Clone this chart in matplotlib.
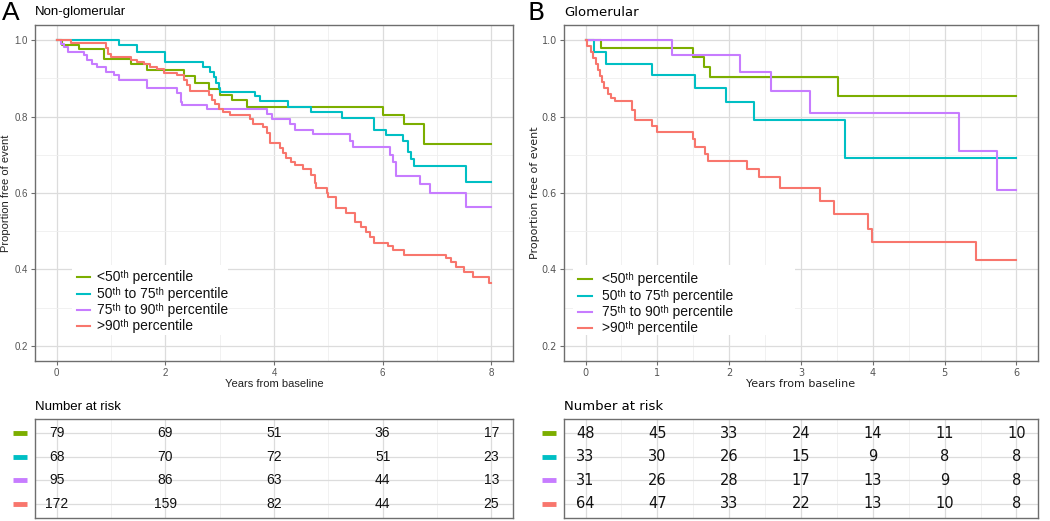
#!/usr/bin/env python3
# Kaplan-Meier style step curves with number-at-risk tables, two panels.
import matplotlib
matplotlib.use("Agg")
import matplotlib.pyplot as plt
import matplotlib.transforms as mtransforms
from matplotlib.patches import Rectangle
import numpy as np

COLORS = ["#7CAE00", "#00BFC4", "#C77CFF", "#F8766D"]
LABELS = [
    "<50\u1d57\u02b0 percentile",
    "50\u1d57\u02b0 to 75\u1d57\u02b0 percentile",
    "75\u1d57\u02b0 to 90\u1d57\u02b0 percentile",
    ">90\u1d57\u02b0 percentile",
]

# ---- panel A: non-glomerular ----
a_green_t = [0, 0.1, 0.41, 0.87, 1.36, 1.66, 2.34, 2.55, 2.8, 3.01, 3.22, 3.5, 6.0, 6.4, 6.77, 8.0]
a_green_s = [1.0, 0.988, 0.976, 0.952, 0.939, 0.923, 0.906, 0.887, 0.872, 0.856, 0.843, 0.826, 0.804, 0.78, 0.728, 0.728]

a_cyan_t = [0, 1.14, 1.48, 2.0, 2.7, 2.83, 2.89, 2.94, 2.98, 3.01, 3.65, 3.74, 4.26, 4.69, 5.26, 5.85,
            6.06, 6.37, 6.46, 6.52, 6.58, 7.53, 8.0]
a_cyan_s = [1.0, 0.987, 0.97, 0.943, 0.93, 0.917, 0.904, 0.887, 0.874, 0.865, 0.854, 0.841, 0.826, 0.811,
            0.797, 0.766, 0.753, 0.736, 0.708, 0.688, 0.671, 0.63, 0.63]

a_purple_t = [0, 0.07, 0.13, 0.2, 0.5, 0.56, 0.65, 0.75, 0.9, 1.05, 1.14, 1.66, 2.21, 2.28, 2.31, 2.77,
              3.87, 3.96, 4.29, 4.39, 4.72, 5.39, 5.45, 6.13, 6.19, 6.25, 6.68, 6.87, 7.53, 8.0]
a_purple_s = [1.0, 0.99, 0.983, 0.97, 0.961, 0.948, 0.939, 0.93, 0.917, 0.908, 0.895, 0.876, 0.861, 0.839,
              0.83, 0.82, 0.806, 0.795, 0.78, 0.766, 0.754, 0.737, 0.721, 0.70, 0.682, 0.644, 0.623, 0.601,
              0.564, 0.564]

a_red_t = [0, 0.26, 0.9, 0.95, 0.99, 1.36, 1.48, 1.6, 1.72, 1.85, 1.97, 2.21, 2.34, 2.4, 2.46, 2.8, 2.86,
           2.92, 2.98, 3.07, 3.19, 3.56, 3.62, 3.8, 3.87, 3.93, 4.11, 4.17, 4.23, 4.32, 4.39, 4.54, 4.69,
           4.75, 4.78, 4.97, 5.0, 5.15, 5.33, 5.49, 5.61, 5.7, 5.76, 5.84, 6.1, 6.19, 6.4, 7.17, 7.26,
           7.35, 7.5, 7.66, 7.96, 8.0]
a_red_s = [1.0, 0.994, 0.98, 0.965, 0.956, 0.948, 0.943, 0.937, 0.93, 0.924, 0.915, 0.908, 0.897, 0.882,
           0.867, 0.856, 0.843, 0.833, 0.821, 0.813, 0.804, 0.795, 0.782, 0.773, 0.756, 0.73, 0.717, 0.704,
           0.691, 0.682, 0.673, 0.663, 0.647, 0.625, 0.612, 0.6, 0.59, 0.56, 0.547, 0.525, 0.512, 0.499,
           0.486, 0.468, 0.46, 0.451, 0.438, 0.429, 0.418, 0.407, 0.392, 0.381, 0.365, 0.365]

a_risk_t = [0, 2, 4, 6, 8]
a_risk_green = [79, 69, 51, 36, 17]
a_risk_cyan = [68, 70, 72, 51, 23]
a_risk_purple = [95, 86, 63, 44, 13]
a_risk_red = [172, 159, 82, 44, 25]

# ---- panel B: glomerular ----
b_green_t = [0, 0.22, 1.49, 1.65, 1.73, 3.52, 6.0]
b_green_s = [1.0, 0.979, 0.956, 0.93, 0.904, 0.855, 0.855]

b_cyan_t = [0, 0.12, 0.29, 0.92, 1.53, 1.96, 2.34, 3.61, 6.0]
b_cyan_s = [1.0, 0.97, 0.939, 0.909, 0.875, 0.839, 0.791, 0.692, 0.692]

b_purple_t = [0, 1.21, 2.15, 2.58, 3.12, 5.2, 5.73, 6.0]
b_purple_s = [1.0, 0.962, 0.918, 0.868, 0.81, 0.709, 0.609, 0.609]

b_red_t = [0, 0.02, 0.08, 0.11, 0.14, 0.17, 0.2, 0.23, 0.26, 0.31, 0.35, 0.41, 0.65, 0.69, 0.92, 1.0,
           1.5, 1.52, 1.67, 1.71, 2.25, 2.42, 2.71, 3.26, 3.46, 3.93, 3.99, 5.44, 6.0]
b_red_s = [1.0, 0.984, 0.969, 0.953, 0.938, 0.922, 0.906, 0.891, 0.875, 0.86, 0.85, 0.842, 0.817, 0.792,
           0.776, 0.76, 0.741, 0.72, 0.702, 0.683, 0.663, 0.642, 0.612, 0.579, 0.544, 0.507, 0.471,
           0.424, 0.424]

b_risk_t = [0, 1, 2, 3, 4, 5, 6]
b_risk_green = [48, 45, 33, 24, 14, 11, 10]
b_risk_cyan = [33, 30, 26, 15, 9, 8, 8]
b_risk_purple = [31, 26, 28, 17, 13, 9, 8]
b_risk_red = [64, 47, 33, 22, 13, 10, 8]

W, H = 1050, 521
GRID_MAJ = "#DCDCDC"
GRID_MIN = "#EFEFEF"
BORDER = "#6E6E6E"
LEG_FONT = ["Liberation Sans", "DejaVu Sans"]


def px_rect(box):
    # pixel box (x0, y0, x1, y1), top-left origin -> figure fraction rect
    x0, y0, x1, y1 = box
    return [x0 / W, 1 - y1 / H, (x1 - x0) / W, (y1 - y0) / H]


def style_frame(ax):
    for sp in ax.spines.values():
        sp.set_color(BORDER)
        sp.set_linewidth(1.0)


def draw_legend(ax, box, leg_box, line_x, text_x, rows_y, size):
    # hand placed legend, all positions given in figure pixels
    x0, y0, x1, y1 = box
    fx = lambda x: (x - x0) / (x1 - x0)
    fy = lambda y: (y1 - y) / (y1 - y0)
    lx0, ly0, lx1, ly1 = leg_box
    ax.add_patch(Rectangle((fx(lx0), fy(ly1)), fx(lx1) - fx(lx0), fy(ly0) - fy(ly1),
                           transform=ax.transAxes, facecolor="white", edgecolor="none", zorder=3))
    for lab, c, y in zip(LABELS, COLORS, rows_y):
        ax.plot([fx(line_x[0]), fx(line_x[1])], [fy(y), fy(y)], color=c, lw=1.5,
                transform=ax.transAxes, zorder=4)
        ax.text(fx(text_x), fy(y), lab, transform=ax.transAxes, ha="left", va="center",
                fontsize=size, family=LEG_FONT, color="#111111", zorder=4)


def draw_curves(ax, curves, xmax, xmajor, xminor, font):
    pad = xmax * 0.05
    ax.set_xlim(-pad, xmax + pad)
    ax.set_ylim(0.16, 1.04)
    ax.set_xticks(xmajor)
    ax.set_xticks(xminor, minor=True)
    ax.set_yticks([0.2, 0.4, 0.6, 0.8, 1.0])
    ax.set_yticks([0.3, 0.5, 0.7, 0.9], minor=True)
    ax.set_yticklabels(["0.2", "0.4", "0.6", "0.8", "1.0"])
    ax.grid(which="major", color=GRID_MAJ, lw=0.9)
    ax.grid(which="minor", color=GRID_MIN, lw=0.6)
    ax.set_axisbelow(True)
    ax.tick_params(which="major", length=3, color=BORDER, labelsize=7, labelcolor="#555555", pad=2)
    ax.tick_params(which="minor", length=0)
    for lab in ax.get_xticklabels() + ax.get_yticklabels():
        lab.set_family(font)
    style_frame(ax)

    for (t, s), c in zip(curves, COLORS):
        ax.step(t, s, where="post", color=c, lw=1.5, zorder=2)

    ax.text(0.5, -0.068, "Years from baseline", transform=ax.transAxes, ha="center",
            va="center", fontsize=8, family=font, color="#222222")
    ax.text(-0.061, 0.5, "Proportion free of event", transform=ax.transAxes, ha="center",
            va="center", rotation=90, fontsize=8, family=font, color="#222222")


def draw_risk(ax, xlim, xmajor, xminor, times, rows, font, size):
    ax.set_xlim(*xlim)
    ax.set_ylim(0.4, 4.6)
    ax.set_xticks(xmajor)
    ax.set_xticks(xminor, minor=True)
    ax.set_yticks([1, 2, 3, 4])
    ax.grid(which="major", color=GRID_MAJ, lw=0.9)
    ax.grid(which="minor", axis="x", color=GRID_MIN, lw=0.6)
    ax.set_axisbelow(True)
    ax.tick_params(which="both", length=0, labelbottom=False, labelleft=False)
    style_frame(ax)
    trans = mtransforms.blended_transform_factory(ax.transAxes, ax.transData)
    for i, (vals, c) in enumerate(zip(rows, COLORS)):
        y = 4 - i
        for t, v in zip(times, vals):
            ax.text(t, y, str(v), ha="center", va="center", fontsize=size, family=font,
                    color="#111111")
        ax.plot([-0.046, -0.016], [y, y], color=c, lw=3.5, transform=trans, clip_on=False,
                solid_capstyle="butt")


fig = plt.figure(figsize=(W / 100, H / 100), dpi=100)

# panel A
boxA = (35, 25, 513, 361)
axA = fig.add_axes(px_rect(boxA))
draw_curves(axA,
            [(a_green_t, a_green_s), (a_cyan_t, a_cyan_s), (a_purple_t, a_purple_s), (a_red_t, a_red_s)],
            8, [0, 2, 4, 6, 8], [1, 3, 5, 7], "Liberation Sans")
draw_legend(axA, boxA, (72, 265, 228, 335), (77, 90), 97, [277, 294, 310, 326], 10)
rA = fig.add_axes(px_rect((35, 419, 513, 518)))
draw_risk(rA, axA.get_xlim(), [0, 2, 4, 6, 8], [1, 3, 5, 7], a_risk_t,
          [a_risk_green, a_risk_cyan, a_risk_purple, a_risk_red], "Liberation Sans", 10)
fig.text(2 / W, 1 - 13 / H, "A", fontsize=19, family="Liberation Sans", va="center", ha="left")
fig.text(35 / W, 1 - 12 / H, "Non-glomerular", fontsize=9.5, family="Liberation Sans",
         va="center", ha="left")
fig.text(35 / W, 1 - 407 / H, "Number at risk", fontsize=9.5, family="Liberation Sans",
         va="center", ha="left")

# panel B
boxB = (564, 25, 1038, 361)
axB = fig.add_axes(px_rect(boxB))
draw_curves(axB,
            [(b_green_t, b_green_s), (b_cyan_t, b_cyan_s), (b_purple_t, b_purple_s), (b_red_t, b_red_s)],
            6, [0, 1, 2, 3, 4, 5, 6], list(np.arange(0.5, 6, 1.0)), "DejaVu Sans")
draw_legend(axB, boxB, (573, 265, 795, 335), (578, 592), 602, [279, 296, 312, 328], 10)
rB = fig.add_axes(px_rect((564, 419, 1038, 518)))
draw_risk(rB, axB.get_xlim(), [0, 1, 2, 3, 4, 5, 6], list(np.arange(0.5, 6, 1.0)), b_risk_t,
          [b_risk_green, b_risk_cyan, b_risk_purple, b_risk_red], "DejaVu Sans", 10.5)
fig.text(527 / W, 1 - 13 / H, "B", fontsize=18, family="DejaVu Sans", va="center", ha="left")
fig.text(564 / W, 1 - 12 / H, "Glomerular", fontsize=9.5, family="DejaVu Sans",
         va="center", ha="left")
fig.text(564 / W, 1 - 407 / H, "Number at risk", fontsize=9.5, family="DejaVu Sans",
         va="center", ha="left")

fig.savefig("out.png", dpi=100)
plt.close(fig)
